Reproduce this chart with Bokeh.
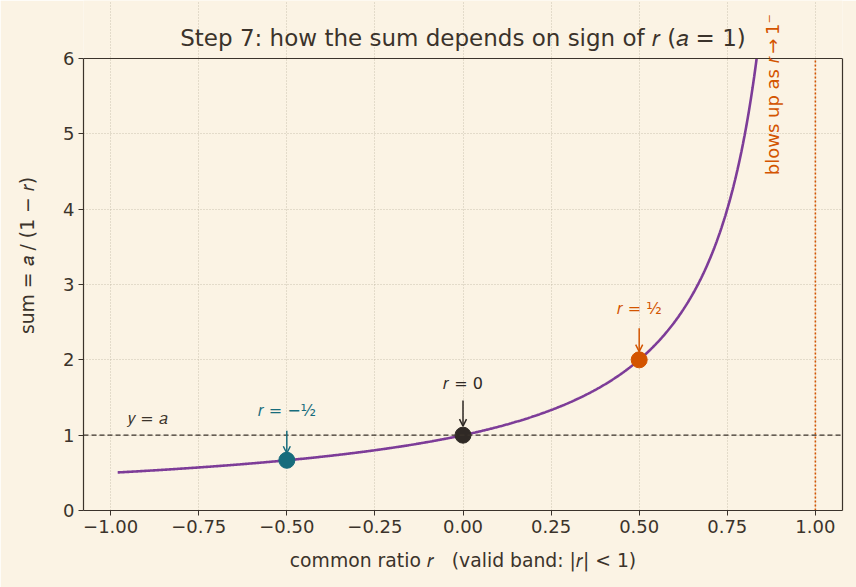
import numpy as np
from bokeh.plotting import figure
from bokeh.models import (Span, Label, Arrow, OpenHead, FixedTicker,
                          ColumnDataSource, LinearAxis)
from bokeh.embed import file_html
from bokeh.resources import INLINE

# --- data -------------------------------------------------------------
a = 1.0
r_start = -0.98
r_limit = 1.0
y_max = 6.0
marked_r = [-0.5, 0.0, 0.5]
marked_sum = [a / (1 - r) for r in marked_r]
marked_colors = ["#176c7c", "#2f2925", "#d35400"]
x_ticks = [-1.0, -0.75, -0.5, -0.25, 0.0, 0.25, 0.5, 0.75, 1.0]
x_tick_labels = ["\u22121.00", "\u22120.75", "\u22120.50", "\u22120.25", "0.00",
                 "0.25", "0.50", "0.75", "1.00"]
y_ticks = [0, 1, 2, 3, 4, 5, 6]

BG = "#fbf3e4"
INK = "#3b332b"
FONT = "DejaVu Sans"
ORANGE = "#d35400"

# curve a/(1-r), stopped where it leaves the top of the axes
r = np.linspace(r_start, r_limit - a / y_max, 800)
s = a / (1 - r)

# the frame reaches above y_max so the title and the rotated note can sit there
y_top = y_max + 58 / 75.33
p = figure(width=856, height=587, x_range=(-1.077, 1.077), y_range=(0, y_top),
           output_backend="svg", toolbar_location=None,
           background_fill_color=BG, border_fill_color=BG,
           min_border_left=83, min_border_right=14, min_border_top=0,
           min_border_bottom=77)
p.outline_line_color = None

right_axis = LinearAxis()
p.add_layout(right_axis, "right")

for ax in (p.xaxis[0], p.yaxis[0], right_axis):
    ax.axis_line_color = INK
    ax.axis_line_width = 1.2
    ax.major_tick_line_color = INK
    ax.major_tick_out = 5
    ax.major_tick_in = 0
    ax.minor_tick_line_color = None
    ax.major_label_text_font = FONT
    ax.major_label_text_font_size = "18px"
    ax.major_label_text_color = INK
    ax.major_label_standoff = 4
    ax.axis_label_text_font = FONT
    ax.axis_label_text_font_size = "18.8px"
    ax.axis_label_text_font_style = "normal"
    ax.axis_label_text_color = INK

p.yaxis[0].bounds = (0, y_max)
right_axis.bounds = (0, y_max)
right_axis.major_tick_line_color = None
right_axis.major_label_text_font_size = "0px"
right_axis.ticker = FixedTicker(ticks=[])

p.xaxis.ticker = FixedTicker(ticks=x_ticks)
p.xaxis.major_label_overrides = {t: l for t, l in zip(x_ticks, x_tick_labels)}
p.yaxis[0].ticker = FixedTicker(ticks=y_ticks)
p.xaxis.axis_label = ("common ratio \U0001D45F\u00a0\u00a0\u00a0"
                      "(valid band: |\U0001D45F| < 1)")
p.yaxis[0].axis_label = "sum = \U0001D44E / (1 \u2212 \U0001D45F)"
p.xaxis.axis_label_standoff = 14
p.yaxis[0].axis_label_standoff = 22

p.xgrid.ticker = FixedTicker(ticks=x_ticks)
p.ygrid.ticker = FixedTicker(ticks=y_ticks)
p.xgrid.bounds = (0, y_max)
p.grid.grid_line_color = "#bfb5a2"
p.grid.grid_line_dash = "1 2"
p.grid.grid_line_width = 0.8

# top edge of the axes box
p.add_layout(Span(location=y_max, dimension="width", line_color=INK,
                  line_width=1.2))

# y = a reference and the r -> 1 limit
p.add_layout(Span(location=a, dimension="width", line_color=INK,
                  line_dash="5 3", line_width=1.2))
p.line([r_limit, r_limit], [0, y_max], line_color=ORANGE, line_dash="2 2",
       line_width=1.6)

# the sum curve
p.line(r, s, line_color="#7d3c98", line_width=2.6)

# highlighted points
src = ColumnDataSource(dict(x=marked_r, y=marked_sum, c=marked_colors))
p.scatter("x", "y", source=src, size=16, fill_color="c", line_color="c")

# arrows with their labels
arrow_starts = [1.06, 1.46, 2.42]
arrow_ends = [0.76, 1.12, 2.11]
label_y = [1.33, 1.69, 2.68]
label_texts = ["\U0001D45F = \u2212\u00bd", "\U0001D45F = 0", "\U0001D45F = \u00bd"]
for x, y0, y1, ly, t, c in zip(marked_r, arrow_starts, arrow_ends, label_y,
                               label_texts, marked_colors):
    p.add_layout(Arrow(end=OpenHead(size=7, line_color=c, line_width=1.5),
                       x_start=x, y_start=y0, x_end=x, y_end=y1,
                       line_color=c, line_width=1.5))
    p.add_layout(Label(x=x, y=ly, text=t, text_align="center",
                       text_baseline="middle", text_color=c,
                       text_font=FONT, text_font_size="16px"))

p.add_layout(Label(x=-0.95, y=1.22, text="\U0001D466 = \U0001D44E", text_align="left",
                   text_baseline="middle", text_color=INK,
                   text_font=FONT, text_font_size="16px"))

p.add_layout(Label(x=0.878, y=4.45,
                   text="blows up as \U0001D45F\u2009\u2192\u20091\u207b",
                   angle=np.pi / 2, text_align="left", text_baseline="middle",
                   text_color=ORANGE, text_font=FONT, text_font_size="18px"))

# title
p.add_layout(Label(x=0.0, y=y_max + 21 / 75.33,
                   text="Step 7: how the sum depends on sign of \U0001D45F (\U0001D44E = 1)",
                   text_align="center", text_baseline="middle", text_color=INK,
                   text_font=FONT, text_font_size="23px"))

open("out.html", "w").write(file_html(p, INLINE))
